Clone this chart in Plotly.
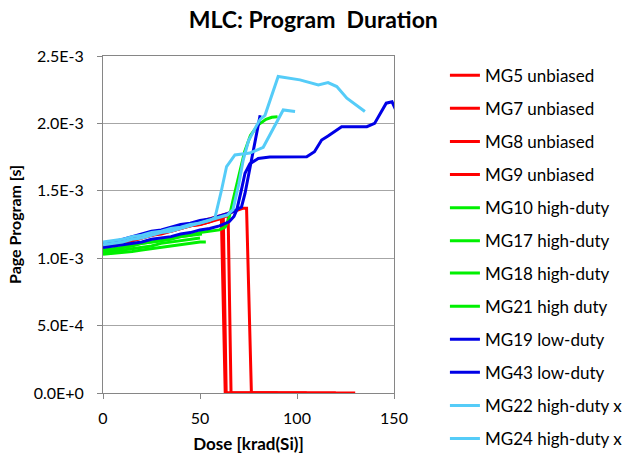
import plotly.graph_objects as go

# Page program duration [s] versus total ionizing dose [krad(Si)]

# --- unbiased parts (fail to 0 after functional loss) ---
mg5_dose = [0, 5, 10, 15, 20, 25, 30, 35, 40, 45, 50, 55, 58, 61, 63, 70, 80, 90, 100, 110, 120]
mg5_t = [1.09e-3, 1.10e-3, 1.12e-3, 1.14e-3, 1.16e-3, 1.17e-3, 1.19e-3, 1.21e-3, 1.23e-3, 1.24e-3,
         1.26e-3, 1.28e-3, 1.29e-3, 1.31e-3, 0, 0, 0, 0, 0, 0, 0]

mg7_dose = [0, 5, 10, 15, 20, 25, 30, 35, 40, 45, 50, 55, 60, 64.5, 66, 75, 90, 105]
mg7_t = [1.08e-3, 1.10e-3, 1.11e-3, 1.13e-3, 1.15e-3, 1.17e-3, 1.18e-3, 1.20e-3, 1.22e-3, 1.24e-3,
         1.25e-3, 1.27e-3, 1.29e-3, 1.32e-3, 0, 0, 0, 0]

mg8_dose = [0, 5, 10, 15, 20, 25, 30, 35, 40, 45, 50, 55, 60, 64, 68, 72, 74, 76.5, 90, 110, 130]
mg8_t = [1.10e-3, 1.11e-3, 1.13e-3, 1.15e-3, 1.17e-3, 1.19e-3, 1.20e-3, 1.22e-3, 1.24e-3, 1.25e-3,
         1.27e-3, 1.29e-3, 1.31e-3, 1.33e-3, 1.35e-3, 1.37e-3, 1.37e-3, 0, 0, 0, 0]

mg9_dose = [0, 5, 10, 15, 20, 25, 30, 35, 40, 45, 50, 55, 60, 62, 63.5, 75, 90]
mg9_t = [1.09e-3, 1.10e-3, 1.11e-3, 1.13e-3, 1.15e-3, 1.17e-3, 1.19e-3, 1.20e-3, 1.22e-3, 1.24e-3,
         1.25e-3, 1.27e-3, 1.30e-3, 1.31e-3, 0, 0, 0]

# --- high-duty parts ---
mg10_dose = [0, 5, 10, 15, 20, 25, 30, 35, 40, 45, 50, 55, 60, 63, 65, 67, 70, 73, 76, 80, 84, 87, 90]
mg10_t = [1.05e-3, 1.06e-3, 1.08e-3, 1.09e-3, 1.11e-3, 1.12e-3, 1.13e-3, 1.15e-3, 1.16e-3, 1.17e-3,
          1.19e-3, 1.20e-3, 1.21e-3, 1.23e-3, 1.30e-3, 1.43e-3, 1.60e-3, 1.79e-3, 1.91e-3, 1.99e-3,
          2.03e-3, 2.045e-3, 2.05e-3]

mg17_dose = [0, 5, 10, 15, 20, 25, 30, 35, 40, 45, 50, 53]
mg17_t = [1.03e-3, 1.035e-3, 1.04e-3, 1.05e-3, 1.06e-3, 1.07e-3, 1.08e-3, 1.09e-3, 1.10e-3, 1.11e-3,
          1.12e-3, 1.12e-3]

mg18_dose = [0, 5, 10, 15, 20, 25, 30, 35, 40, 45, 50, 51]
mg18_t = [1.06e-3, 1.07e-3, 1.08e-3, 1.10e-3, 1.11e-3, 1.12e-3, 1.13e-3, 1.14e-3, 1.16e-3, 1.17e-3,
          1.18e-3, 1.18e-3]

mg21_dose = [0, 5, 10, 15, 20, 25, 30, 35, 40, 45, 50]
mg21_t = [1.04e-3, 1.05e-3, 1.06e-3, 1.07e-3, 1.08e-3, 1.09e-3, 1.11e-3, 1.12e-3, 1.13e-3, 1.14e-3,
          1.15e-3]

# --- low-duty parts ---
mg19_dose = [0, 5, 10, 15, 20, 25, 30, 35, 40, 45, 50, 55, 60, 64, 67, 69, 71.4, 73.2, 76.6, 79, 81]
mg19_t = [1.11e-3, 1.12e-3, 1.14e-3, 1.16e-3, 1.18e-3, 1.20e-3, 1.21e-3, 1.23e-3, 1.25e-3, 1.26e-3,
          1.28e-3, 1.29e-3, 1.31e-3, 1.33e-3, 1.345e-3, 1.36e-3, 1.38e-3, 1.48e-3, 1.73e-3, 1.90e-3,
          2.06e-3]

mg43_dose = [0, 5, 10, 15, 20, 25, 30, 35, 40, 45, 50, 55, 60, 65, 67.5, 69, 71.4, 73.2, 75.7, 80,
             86, 95, 105, 109, 112.7, 116, 123, 131, 136, 140, 146, 149, 151.5]
mg43_t = [1.08e-3, 1.09e-3, 1.10e-3, 1.11e-3, 1.12e-3, 1.14e-3, 1.15e-3, 1.16e-3, 1.18e-3, 1.19e-3,
          1.21e-3, 1.22e-3, 1.24e-3, 1.27e-3, 1.31e-3, 1.36e-3, 1.51e-3, 1.63e-3, 1.70e-3, 1.74e-3,
          1.75e-3, 1.75e-3, 1.753e-3, 1.79e-3, 1.877e-3, 1.907e-3, 1.976e-3, 1.976e-3, 1.976e-3,
          2.0e-3, 2.15e-3, 2.16e-3, 2.08e-3]

# --- high-duty "x" parts ---
mg22_dose = [0, 5, 10, 15, 20, 25, 30, 35, 40, 45, 50, 55, 60, 64, 67, 70, 72.3, 75, 79, 81, 83.5,
             90.3, 101.5, 111, 116, 120.5, 125.7, 132.5, 135]
mg22_t = [1.10e-3, 1.11e-3, 1.12e-3, 1.14e-3, 1.15e-3, 1.17e-3, 1.19e-3, 1.20e-3, 1.22e-3, 1.24e-3,
          1.26e-3, 1.28e-3, 1.30e-3, 1.32e-3, 1.36e-3, 1.55e-3, 1.73e-3, 1.87e-3, 1.98e-3, 2.03e-3,
          2.06e-3, 2.348e-3, 2.323e-3, 2.286e-3, 2.303e-3, 2.273e-3, 2.187e-3, 2.113e-3, 2.088e-3]

mg24_dose = [0, 5, 10, 15, 20, 25, 30, 35, 40, 45, 50, 55, 57.7, 61.1, 63.7, 68, 75.7, 82.6, 92.9, 99]
mg24_t = [1.12e-3, 1.13e-3, 1.14e-3, 1.16e-3, 1.17e-3, 1.19e-3, 1.20e-3, 1.22e-3, 1.23e-3, 1.25e-3,
          1.26e-3, 1.28e-3, 1.30e-3, 1.506e-3, 1.68e-3, 1.766e-3, 1.78e-3, 1.823e-3, 2.10e-3, 2.088e-3]

series_names = ["MG5 unbiased", "MG7 unbiased", "MG8 unbiased", "MG9 unbiased",
                "MG10 high-duty", "MG17 high-duty", "MG18 high-duty", "MG21 high duty",
                "MG19 low-duty", "MG43 low-duty", "MG22 high-duty x", "MG24 high-duty x"]
series_dose = [mg5_dose, mg7_dose, mg8_dose, mg9_dose, mg10_dose, mg17_dose, mg18_dose, mg21_dose,
               mg19_dose, mg43_dose, mg22_dose, mg24_dose]
series_t = [mg5_t, mg7_t, mg8_t, mg9_t, mg10_t, mg17_t, mg18_t, mg21_t,
            mg19_t, mg43_t, mg22_t, mg24_t]
series_colors = ["#FF0000"] * 4 + ["#00F000"] * 4 + ["#0000E6"] * 2 + ["#55CCF8"] * 2

y_tickvals = [0, 5e-4, 1e-3, 1.5e-3, 2e-3, 2.5e-3]
y_ticktext = ["0.0E+0", "5.0E-4", "1.0E-3", "1.5E-3", "2.0E-3", "2.5E-3"]
x_tickvals = [0, 50, 100, 150]

FONT = "Lato, 'Open Sans', sans-serif"

fig = go.Figure()
for i, (name, xs, ys, col) in enumerate(zip(series_names, series_dose, series_t, series_colors)):
    fig.add_trace(go.Scatter(
        x=xs, y=ys, name=name, mode="lines", legendgroup=name,
        legend="legend" if i < 6 else "legend2",
        line=dict(color=col, width=3),
    ))

# the legend is split in two stacked blocks so it can run the full page height
legend_common = dict(x=1.175, xanchor="left", yanchor="top",
                     font=dict(size=17, family=FONT), tracegroupgap=8,
                     bgcolor="rgba(0,0,0,0)", itemwidth=30)

fig.update_layout(
    width=638, height=456,
    margin=dict(l=103, r=244, t=56, b=63, autoexpand=False),
    paper_bgcolor="white", plot_bgcolor="white",
    font=dict(family=FONT, size=16, color="#000000"),
    title=dict(text="<b>MLC: Program  Duration</b>", x=0.491, xref="container",
               y=1 - 19.5 / 456, yref="container", yanchor="middle", xanchor="center",
               font=dict(size=23, family=FONT, color="#000000")),
    showlegend=True,
    legend=dict(y=0.995, **legend_common),
    legend2=dict(y=0.408, **legend_common),
    xaxis=dict(range=[0, 150], tickvals=x_tickvals, ticks="outside", ticklen=5,
               tickcolor="#868686", showline=True, linecolor="#868686", linewidth=1,
               mirror=True, showgrid=False, zeroline=False, layer="below traces",
               tickfont=dict(size=16), ticklabelstandoff=6,
               title=dict(text="<b>Dose [krad(Si)]</b>", font=dict(size=17), standoff=11)),
    yaxis=dict(range=[0, 2.5e-3], tickvals=y_tickvals, ticktext=y_ticktext, ticks="outside",
               ticklen=5, tickcolor="#868686", showline=True, linecolor="#868686", linewidth=1,
               mirror=True, showgrid=True, gridcolor="#A6A6A6", gridwidth=1, zeroline=False,
               layer="below traces", tickfont=dict(size=16), ticklabelstandoff=10,
               title=dict(text="<b>Page Program [s]</b>", font=dict(size=16), standoff=8)),
)

fig.write_html("out.html")
